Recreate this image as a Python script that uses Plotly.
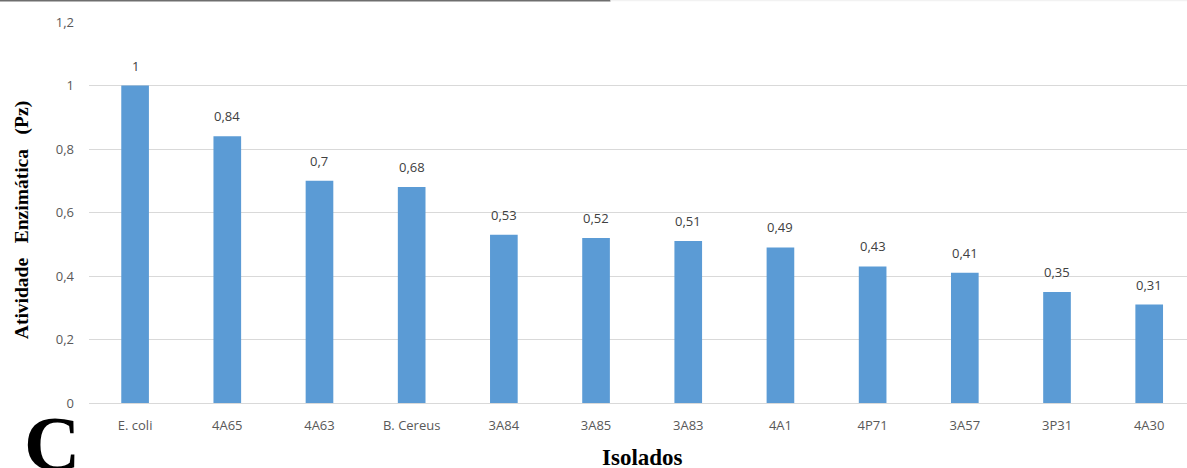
import plotly.graph_objects as go

# Isolates and their enzymatic activity index (Pz)
isolados = ["E. coli", "4A65", "4A63", "B. Cereus", "3A84", "3A85",
            "3A83", "4A1", "4P71", "3A57", "3P31", "4A30"]
atividade = [1, 0.84, 0.7, 0.68, 0.53, 0.52, 0.51, 0.49, 0.43, 0.41, 0.35, 0.31]
y_ticks = [0, 0.2, 0.4, 0.6, 0.8, 1, 1.2]

BAR = "#5B9BD5"
GRID = "#D9D9D9"
TXT = "#595959"
SANS = "Open Sans, Noto Sans, sans-serif"
SERIF = "Liberation Serif, Times New Roman, serif"

fig = go.Figure(go.Bar(
    x=list(range(len(isolados))),
    y=atividade,
    marker=dict(color=BAR, line=dict(width=0)),
    width=0.3,
    hoverinfo="skip",
))

# value labels above each bar
for i, v in enumerate(atividade):
    fig.add_annotation(
        x=i, y=v, xref="x", yref="y",
        text=f"{v:g}".replace(".", ","),
        showarrow=False, yanchor="bottom", yshift=9,
        font=dict(family=SANS, size=13, color="#404040"),
    )

nb = "\u00a0"
fig.add_annotation(
    x=-0.061, y=0.48, xref="paper", yref="paper",
    text=f"<b>Atividade{nb*3}Enzimática{nb*3}(Pz)</b>",
    textangle=-90, showarrow=False,
    font=dict(family=SERIF, size=19.5, color="#000000"),
    xanchor="center", yanchor="middle",
)
fig.add_annotation(
    x=0.504, y=-0.144, xref="paper", yref="paper",
    text="<b>Isolados</b>", showarrow=False,
    font=dict(family=SERIF, size=23, color="#000000"),
    xanchor="center", yanchor="middle",
)
fig.add_annotation(
    x=-0.0333, y=0.012, xref="paper", yref="paper",
    text="<b>C</b>", showarrow=False,
    font=dict(family=SERIF, size=78, color="#000000"),
    xanchor="center", yanchor="top",
)

# dark strip along the top edge
fig.add_shape(type="line", xref="paper", yref="paper",
              x0=-0.082, x1=0.475, y0=1.057, y1=1.057,
              line=dict(color="#6E6E6E", width=2.5))
fig.add_shape(type="line", xref="paper", yref="paper",
              x0=0.475, x1=1.0, y0=1.057, y1=1.057,
              line=dict(color="#F2F2F2", width=2))

fig.update_layout(
    width=1187, height=468,
    margin=dict(l=89, r=0, t=22, b=65),
    paper_bgcolor="white", plot_bgcolor="white",
    separators=",.",
    showlegend=False,
    bargap=0.7,
    xaxis=dict(
        tickmode="array", tickvals=list(range(len(isolados))), ticktext=isolados,
        range=[-0.5, 11.41], showgrid=False, zeroline=False,
        showline=True, linecolor=GRID, linewidth=1,
        ticks="", ticklabelstandoff=10,
        tickfont=dict(family=SANS, size=13, color=TXT),
    ),
    yaxis=dict(
        range=[0, 1.2], tickvals=y_ticks,
        showgrid=True, gridcolor=GRID, gridwidth=1,
        zeroline=False, showline=False, ticks="",
        ticklabelstandoff=14,
        tickfont=dict(family=SANS, size=13, color=TXT),
    ),
)

fig.write_html("out.html")
